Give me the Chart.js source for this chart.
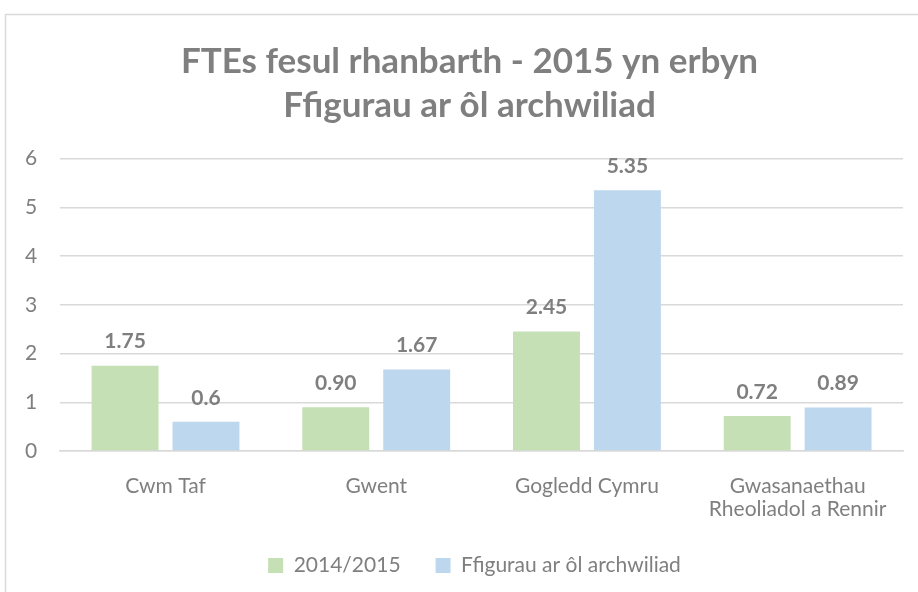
<!DOCTYPE html>
<html>
<head>
<meta charset="utf-8">
<script src="https://cdn.jsdelivr.net/npm/chart.js@4.4.1/dist/chart.umd.min.js"></script>
<style>
html,body{margin:0;padding:0;background:#fff;}
#wrap{position:relative;width:918px;height:592px;}
</style>
</head>
<body>
<div id="wrap"><canvas id="c" width="918" height="592"></canvas></div>
<script>
const categories = ["Cwm Taf", "Gwent", "Gogledd Cymru", ["Gwasanaethau", "Rheoliadol a Rennir"]];
const seriesNames = ["2014/2015", "Ffigurau ar ôl archwiliad"];
const values2014 = [1.75, 0.90, 2.45, 0.72];
const valuesAudit = [0.6, 1.67, 5.35, 0.89];
const labels2014 = ["1.75", "0.90", "2.45", "0.72"];
const labelsAudit = ["0.6", "1.67", "5.35", "0.89"];
const yTicks = [0, 1, 2, 3, 4, 5, 6];
const titleLines = ["FTEs fesul rhanbarth - 2015 yn erbyn", "Ffigurau ar ôl archwiliad"];

const FONT = "Lato, 'Open Sans', sans-serif";
const TEXT = '#7F7F7F';

const borderPlugin = {
  id: 'outerBorder',
  beforeDraw(chart) {
    const ctx = chart.ctx;
    ctx.save();
    ctx.fillStyle = '#fff';
    ctx.fillRect(0, 0, chart.width, chart.height);
    ctx.strokeStyle = '#D9D9D9';
    ctx.lineWidth = 1.5;
    ctx.strokeRect(5.5, 14.5, 1000, 1000);
    ctx.restore();
  }
};

// The original chart frame is wider than the visible crop, so its title and legend
// are centred a little to the right of this canvas' centre.
const centreShiftPlugin = {
  id: 'centreShift',
  afterLayout(chart) {
    const t = chart.titleBlock, l = chart.legend;
    if (t) { t.left += 17; t.right += 17; }
    if (l) { l.left += 22; l.right += 22; }
  }
};

const valueLabelPlugin = {
  id: 'valueLabels',
  afterDatasetsDraw(chart) {
    const ctx = chart.ctx;
    ctx.save();
    ctx.font = "bold 21px " + FONT;
    ctx.fillStyle = TEXT;
    ctx.textAlign = 'center';
    ctx.textBaseline = 'middle';
    chart.data.datasets.forEach((ds, di) => {
      const meta = chart.getDatasetMeta(di);
      meta.data.forEach((bar, i) => {
        ctx.fillText(ds.valueLabels[i], bar.x, bar.y - 24);
      });
    });
    ctx.restore();
  }
};

new Chart(document.getElementById('c'), {
  type: 'bar',
  data: {
    labels: categories,
    datasets: [
      { label: seriesNames[0], data: values2014, valueLabels: labels2014, backgroundColor: '#C5E0B4', categoryPercentage: 0.768, barPercentage: 0.827 },
      { label: seriesNames[1], data: valuesAudit, valueLabels: labelsAudit, backgroundColor: '#BDD7EE', categoryPercentage: 0.768, barPercentage: 0.827 }
    ]
  },
  options: {
    responsive: false,
    animation: false,
    devicePixelRatio: 1,
    layout: { padding: { left: 2, right: 15, top: 30, bottom: 6 } },
    plugins: {
      title: {
        display: true,
        text: titleLines,
        color: TEXT,
        font: { family: FONT, size: 35, weight: 'bold', lineHeight: 1.25 },
        padding: { top: 10, bottom: 31 }
      },
      legend: {
        display: true,
        position: 'bottom',
        labels: {
          color: TEXT,
          font: { family: FONT, size: 21 },
          boxWidth: 15, boxHeight: 15,
          padding: 35
        }
      },
      tooltip: { enabled: false }
    },
    scales: {
      x: {
        grid: { display: false, drawTicks: false },
        border: { display: true, color: '#D9D9D9', width: 1.5 },
        ticks: { color: TEXT, font: { family: FONT, size: 21, lineHeight: 1.1 }, padding: 24, maxRotation: 0, autoSkip: false },
        afterFit(scale) { scale.height = 69; }
      },
      y: {
        min: 0, max: 6,
        afterBuildTicks(scale) { scale.ticks = yTicks.map(v => ({ value: v })); },
        grid: { color: '#D9D9D9', lineWidth: 1.5, drawTicks: false },
        border: { display: false },
        ticks: { color: TEXT, font: { family: FONT, size: 21 }, padding: 23 }
      }
    }
  },
  plugins: [borderPlugin, centreShiftPlugin, valueLabelPlugin]
});
</script>
</body>
</html>
